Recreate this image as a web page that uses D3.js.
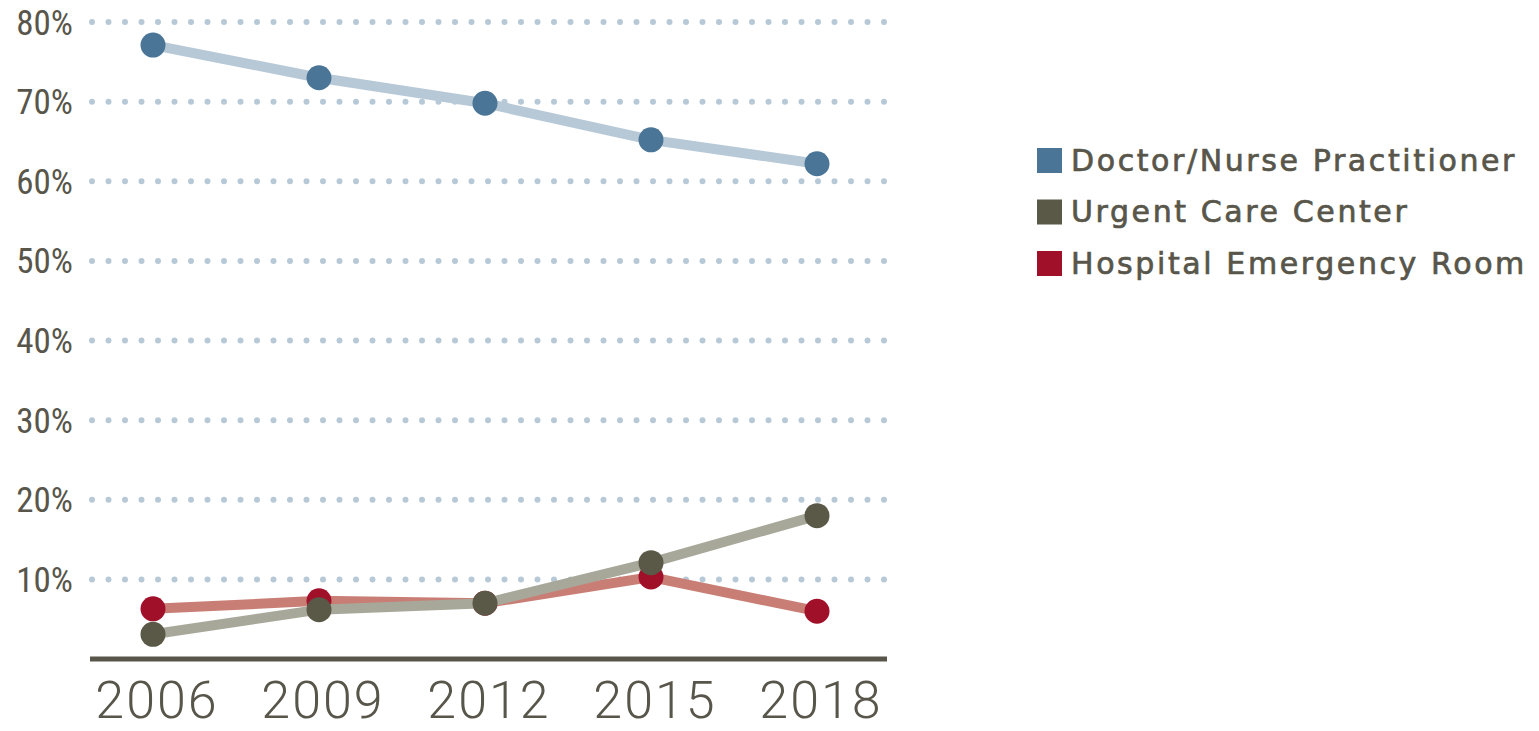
<!DOCTYPE html>
<html>
<head>
<meta charset="utf-8">
<script src="https://cdn.jsdelivr.net/npm/d3@7"></script>
<style>
  body { margin: 0; background: #fff; }
  svg { display: block; }
</style>
</head>
<body>
<svg id="chart"></svg>
<script>
const width = 1539;
const height = 731;

const years = ['2006', '2009', '2012', '2015', '2018'];
const yTicks = [10, 20, 30, 40, 50, 60, 70, 80];
const doctor = [77.1, 73.0, 69.8, 65.2, 62.2];
const urgent = [3.1, 6.2, 7.0, 12.1, 18.0];
const er = [6.3, 7.3, 7.0, 10.3, 6.0];

const series = [
  { name: 'Doctor/Nurse Practitioner', values: doctor, line: '#b7c9d7', dot: '#4a7597' },
  { name: 'Urgent Care Center', values: urgent, line: '#a8a89a', dot: '#5a5847' },
  { name: 'Hospital Emergency Room', values: er, line: '#c97e75', dot: '#a01029' }
];
// draw order: ER under urgent
const drawOrder = [series[0], series[2], series[1]];

const svg = d3.select('#chart')
  .attr('width', width)
  .attr('height', height);

const x = d3.scalePoint()
  .domain(years)
  .range([153, 817]);

const y = d3.scaleLinear()
  .domain([0, 80])
  .range([659, 22]);

// dotted gridlines
svg.append('g')
  .selectAll('line')
  .data(yTicks)
  .enter()
  .append('line')
  .attr('x1', 92)
  .attr('x2', 886)
  .attr('y1', d => y(d))
  .attr('y2', d => y(d))
  .attr('stroke', '#b7c9d7')
  .attr('stroke-width', 6)
  .attr('stroke-linecap', 'round')
  .attr('stroke-dasharray', '0 16.5');

// y tick labels
svg.append('g')
  .selectAll('text')
  .data(yTicks)
  .enter()
  .append('text')
  .attr('x', 73)
  .attr('y', d => y(d))
  .attr('dy', '0.36em')
  .attr('text-anchor', 'end')
  .attr('font-family', '"Liberation Sans Narrow", "Roboto Condensed", Roboto, sans-serif')
  .attr('font-size', 35)
  .attr('fill', '#58564a')
  .text(d => d + '%');

// baseline
svg.append('line')
  .attr('x1', 90)
  .attr('x2', 887)
  .attr('y1', y(0))
  .attr('y2', y(0))
  .attr('stroke', '#58564a')
  .attr('stroke-width', 5);

// x labels
svg.append('g')
  .selectAll('text')
  .data(years)
  .enter()
  .append('text')
  .attr('x', d => x(d) + 4)
  .attr('y', 718)
  .attr('text-anchor', 'middle')
  .attr('font-family', 'Roboto, sans-serif')
  .attr('font-weight', 300)
  .attr('font-size', 52)
  .attr('letter-spacing', 2)
  .attr('fill', '#58564a')
  .text(d => d);

const line = d3.line()
  .x((d, i) => x(years[i]))
  .y(d => y(d));

drawOrder.forEach(function(s) {
  const g = svg.append('g');
  g.append('path')
    .attr('d', line(s.values))
    .attr('fill', 'none')
    .attr('stroke', s.line)
    .attr('stroke-width', 10);
  g.selectAll('circle')
    .data(s.values)
    .enter()
    .append('circle')
    .attr('cx', (d, i) => x(years[i]))
    .attr('cy', d => y(d))
    .attr('r', 12.5)
    .attr('fill', s.dot);
});

// legend
const legend = svg.append('g')
  .attr('transform', 'translate(1037, 160)');
const items = legend.selectAll('g')
  .data(series)
  .enter()
  .append('g')
  .attr('transform', (d, i) => 'translate(0,' + (i * 51.5) + ')');
items.append('rect')
  .attr('x', 0)
  .attr('y', -12)
  .attr('width', 25)
  .attr('height', 25)
  .attr('fill', d => d.dot);
items.append('text')
  .attr('x', 34)
  .attr('y', 0)
  .attr('dy', '0.36em')
  .attr('font-family', '"DejaVu Sans", sans-serif')
  .attr('font-size', 30)
  .attr('letter-spacing', 2.6)
  .attr('stroke', '#58564a')
  .attr('stroke-width', 0.7)
  .attr('fill', '#58564a')
  .text(d => d.name);
</script>
</body>
</html>
